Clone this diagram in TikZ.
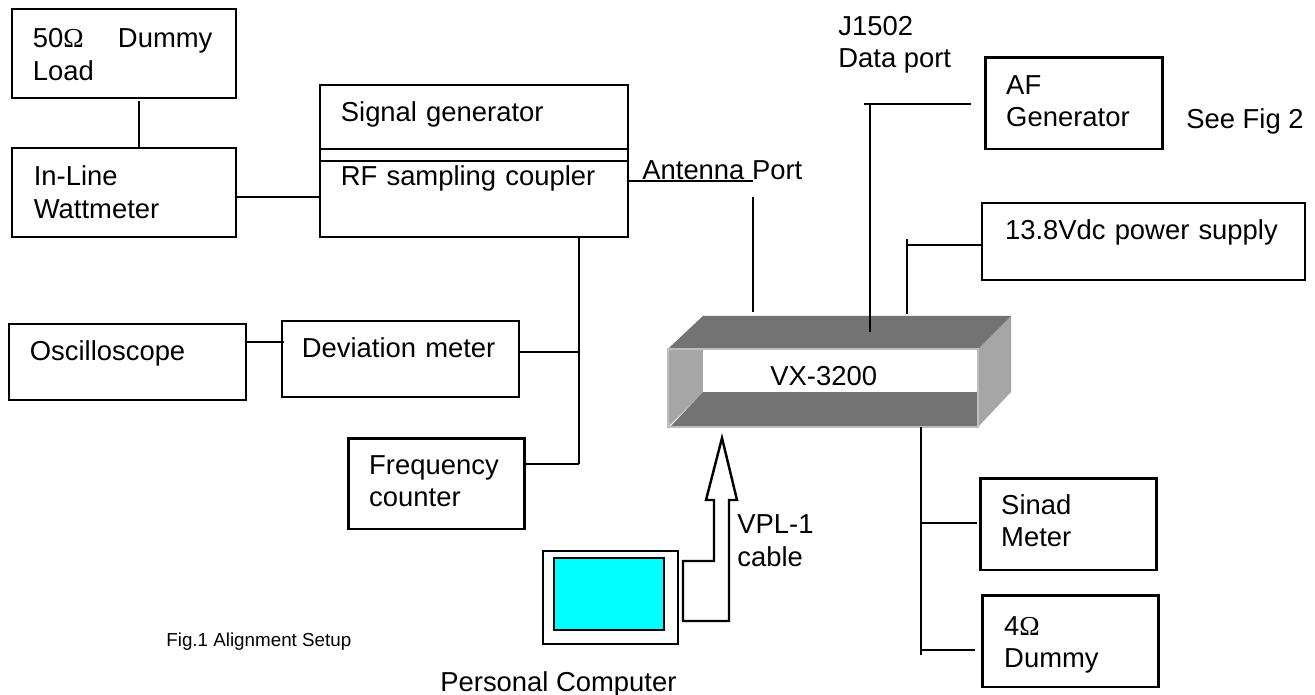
\documentclass[tikz,border=0pt]{standalone}
\usepackage{fontspec}
\usepackage{tikz}
\usepackage{xcolor}
\setmainfont{Liberation Sans}
\newfontfamily\ohmfont{Liberation Serif}
\definecolor{vxdark}{RGB}{115, 115, 115}
\definecolor{vxlight}{RGB}{166, 166, 166}
\definecolor{vxedge}{RGB}{190, 190, 190}
\definecolor{pcscreen}{RGB}{0, 255, 255}
\def\px{0.5669pt}
\tikzset{
  textbox/.style n args={4}{draw, line width=1.1pt, anchor=north west, align=left, inner ysep=0pt, inner xsep=#3*\px,
    text width=(#1-2*#3)*\px, text height=#4*\px, text depth=(#2-#4)*\px},
  wire/.style={line width=1pt},
  plain/.style={anchor=base west, inner sep=0pt, align=left}
}
\begin{document}
\begin{tikzpicture}[x=0.02cm, y=-0.02cm, every node/.style={font=\fontsize{15.6}{18.4}\selectfont}]
        \useasboundingbox (0,0) rectangle (1315,695);
        % left side
        \node[textbox={225}{89}{21}{39}] (dummyload) at (11,8) {50{\ohmfont Ω}\hspace{19.5pt}Dummy\\Load};
        \node[textbox={225}{89}{22}{38}] (wattmeter) at (11,147) {In-Line\\Wattmeter};
        \node[textbox={309}{64}{21}{37}] (siggen) at (319,84) {Signal generator};
        \node[textbox={309}{12}{21}{6}] (band) at (319,148) {};
        \node[textbox={309}{76}{21}{25}] (coupler) at (319,160) {RF sampling coupler};
        \node[textbox={238}{76}{21}{37}] (scope) at (8,323) {Oscilloscope};
        \node[textbox={238}{76}{20}{37}] (deviation) at (281,320) {Deviation meter};
        \node[textbox={177}{91}{21}{36}, line width=1.5pt] (freq) at (347,437) {Frequency\\counter};
        % right side
        \node[textbox={178}{92}{21}{37}, line width=1.5pt] (afgen) at (984,56) {AF\\Generator};
        \node[textbox={324}{77}{23}{37}, line width=1.3pt] (power) at (981,202) {13.8Vdc power supply};
        \node[textbox={177}{92}{21}{36}, line width=1.5pt] (sinad) at (979,477) {Sinad\\Meter};
        \node[textbox={177}{92}{22}{40}, line width=1.5pt] (dummy) at (981,594) {4{\ohmfont Ω}\\Dummy};
        % radio
        \fill[vxlight] (668,349) -- (703,316) -- (703,392) -- (668,427) -- cycle;
        \fill[vxlight] (978,349) -- (1011,316) -- (1011,392) -- (978,427) -- cycle;
        \fill[vxdark] (668,349) -- (703,316) -- (1011,316) -- (978,349) -- cycle;
        \fill[vxdark] (670,427) -- (703,392) -- (977,392) -- (977,427) -- cycle;
        \draw[vxedge, line width=1pt] (668,349) -- (978,349) -- (978,427) -- (668,427) -- cycle;
        \node[anchor=north west, fill=white, minimum width=274*\px, minimum height=41*\px, inner sep=0pt] (vx) at (703,351) {};
        \node[plain] (vxtext) at (770,386) {VX-3200};
        % computer
        \node[draw, line width=1.1pt, anchor=north west, minimum width=136*\px, minimum height=93*\px] (pc) at (542,550) {};
        \node[draw, line width=1.1pt, fill=pcscreen, anchor=north west, minimum width=110*\px, minimum height=72*\px] (screen) at (553,557) {};
        \draw[line width=1.4pt] (683,561) -- (714,561) -- (714,500) -- (706,500) -- (722,438) -- (737,500) -- (729,500) -- (729,621) -- (683,621) -- cycle;
        % free labels
        \node[plain] (antenna) at (642,180) {Antenna Port};
        \node[plain] (jport) at (838,68) {J1502\\Data port};
        \node[plain] (seefig) at (1186,129) {See Fig 2};
        \node[plain] (vpl) at (737,566) {VPL-1\\cable};
        \node[plain] (pclabel) at (440,691) {Personal Computer};
        \node[plain, font=\fontsize{10.7}{13}\selectfont] (figlabel) at (166,646) {Fig.1 Alignment Setup};
        % wires
        \coordinate (loadend) at (139,101);
        \coordinate (busend) at (579,464);
        \coordinate (devtee) at (579,352);
        \coordinate (antcorner) at (753,181);
        \coordinate (anttop) at (753,197);
        \coordinate (antend) at (753,312);
        \coordinate (dataend) at (870,332);
        \coordinate (datatop) at (864,104);
        \coordinate (afend) at (971,104);
        \coordinate (powertop) at (907,239);
        \coordinate (poweren) at (907,314);
        \coordinate (powertee) at (907,245);
        \coordinate (speaker) at (921,427);
        \coordinate (speakerend) at (921,655);
        \coordinate (sinadtee) at (921,523);
        \coordinate (dummytee) at (921,650);
        \coordinate (scopeend) at (245,342);
        \draw[wire] (loadend) -- (loadend |- wattmeter.north);
        \draw[wire] (wattmeter.east |- 0,197) -- (coupler.west |- 0,197);
        \draw[wire] (coupler.east |- antcorner) -- (antcorner);
        \draw[wire] (anttop) -- (antend);
        \draw[wire] (coupler.south -| busend) -- (busend);
        \draw[wire] (deviation.east |- devtee) -- (devtee);
        \draw[wire] (freq.east |- busend) -- (busend);
        \draw[wire] (scopeend) -- (284,342);
        \draw[wire] (datatop) -- (afend);
        \draw[line width=1.2pt] (datatop -| dataend) -- (dataend);
        \draw[wire] (powertop) -- (poweren);
        \draw[wire] (powertee) -- (power.west |- powertee);
        \draw[wire] (speaker) -- (speakerend);
        \draw[wire] (sinadtee) -- (977,523);
        \draw[wire] (dummytee) -- (975,650);
\end{tikzpicture}
\end{document}
